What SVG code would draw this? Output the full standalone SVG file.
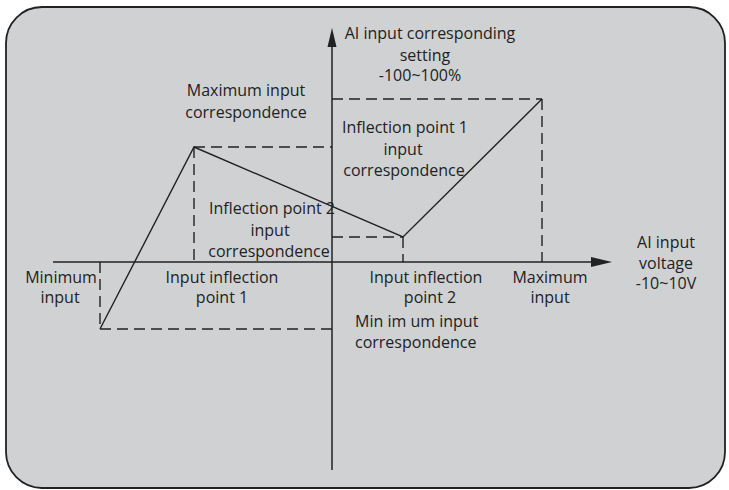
<svg xmlns="http://www.w3.org/2000/svg" width="729" height="490" viewBox="0 0 729 490">
<style>
.t{font-family:"Open Sans","Noto Sans","Liberation Sans",sans-serif;font-size:16px;fill:#222;text-anchor:middle}
.l{text-anchor:start}
.ax{stroke:#222;stroke-width:1.5;fill:none}
.d{stroke:#222;stroke-width:1.4;fill:none;stroke-dasharray:11 6}
.c{stroke:#222;stroke-width:1.4;fill:none}
</style>
<rect x="6" y="7" width="719" height="481" rx="36" ry="36" fill="#d0d1d3" stroke="#222" stroke-width="1.8"/>
<g id="connectors">
<line class="ax" x1="332" y1="470" x2="332" y2="44"/>
<polygon points="332,28 327.5,47 336.5,47" fill="#222"/>
<line class="ax" x1="53" y1="262" x2="594" y2="262"/>
<polygon points="612,262 591,257 591,267" fill="#222"/>
<line class="d" x1="332" y1="99" x2="542" y2="99"/>
<line class="d" x1="542" y1="99" x2="542" y2="262"/>
<line class="d" x1="194" y1="147" x2="332" y2="147"/>
<line class="d" x1="194" y1="147" x2="194" y2="262"/>
<line class="d" x1="332" y1="237" x2="403" y2="237"/>
<line class="d" x1="403" y1="237" x2="403" y2="262"/>
<line class="d" x1="100" y1="329" x2="332" y2="329"/>
<line class="d" x1="100" y1="262" x2="100" y2="329"/>
<polyline class="c" points="100,329 194,147 403,237 542,99"/>
</g>
<g id="y-axis-label">
<text class="t" x="430" y="39">AI input corresponding</text>
<text class="t" x="425" y="61">setting</text>
<text class="t" x="420" y="81">-100~100%</text>
</g>
<g id="max-input-corr">
<text class="t" x="246" y="96">Maximum input</text>
<text class="t" x="246" y="118">correspondence</text>
</g>
<g id="infl1-corr">
<text class="t" x="405" y="133">Inflection point 1</text>
<text class="t" x="403" y="155">input</text>
<text class="t" x="404" y="176">correspondence</text>
</g>
<g id="infl2-corr">
<text class="t" x="272" y="214">Inflection point 2</text>
<text class="t" x="270" y="236">input</text>
<text class="t" x="269" y="257">correspondence</text>
</g>
<g id="min-input">
<text class="t" x="61" y="283">Minimum</text>
<text class="t" x="60" y="303">input</text>
</g>
<g id="input-infl1">
<text class="t" x="222" y="283">Input inflection</text>
<text class="t" x="222" y="303">point 1</text>
</g>
<g id="input-infl2">
<text class="t" x="426" y="283">Input inflection</text>
<text class="t" x="430" y="303">point 2</text>
</g>
<g id="max-input">
<text class="t" x="550" y="283">Maximum</text>
<text class="t" x="550" y="303">input</text>
</g>
<g id="x-axis-label">
<text class="t" x="666" y="248">AI input</text>
<text class="t" x="666" y="269">voltage</text>
<text class="t" x="666" y="289">-10~10V</text>
</g>
<g id="min-input-corr">
<text class="t l" x="355" y="327">Min im um input</text>
<text class="t l" x="355" y="348">correspondence</text>
</g>
</svg>
